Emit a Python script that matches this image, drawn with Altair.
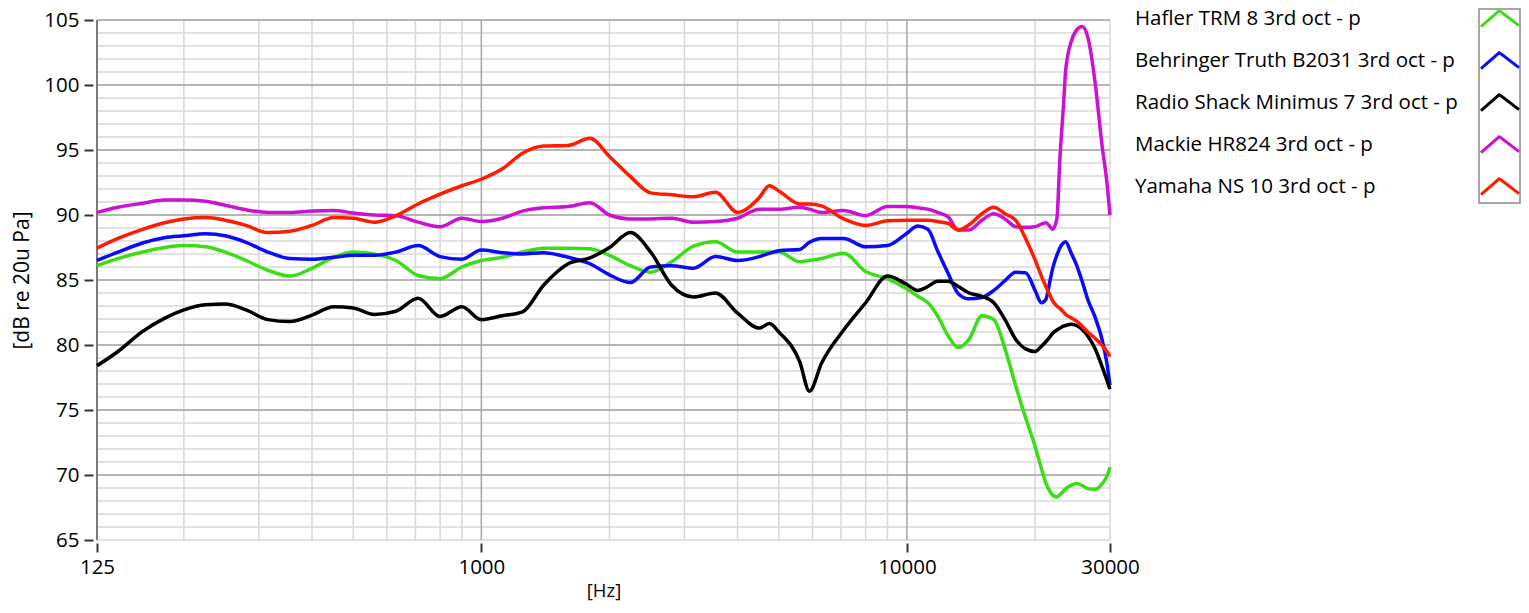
import altair as alt
import pandas as pd

FONT = "Open Sans"

# ---- data ----
freq_hz = [125, 140, 160, 180, 200, 225, 250, 280, 315, 355,
           400, 450, 500, 560, 630, 710, 800, 900, 1000, 1120,
           1250, 1400, 1600, 1800, 2000, 2240, 2500, 2800, 3150, 3550,
           4000, 4500, 4750, 5000, 5600, 5900, 6300, 7100, 8000, 9000,
           10000, 10600, 11200, 11800, 12500, 13200, 14000, 15000, 16000, 17000,
           18000, 19000, 20000, 20700, 21200, 21700, 22000, 22500, 22900, 23300,
           23600, 24300, 25000, 25800, 26600, 27700, 28700, 29500, 30000]

hafler = [86.1, 86.65, 87.15, 87.5, 87.65, 87.55, 87.15, 86.5, 85.75, 85.3,
          85.9, 86.75, 87.15, 87.0, 86.5, 85.35, 85.1, 86.0, 86.5, 86.75,
          87.15, 87.45, 87.45, 87.4, 86.9, 86.1, 85.6, 86.4, 87.6, 87.95,
          87.15, 87.15, 87.15, 87.15, 86.4, 86.5, 86.65, 87.05, 85.65, 85.1,
          84.3, 83.75, 83.25, 82.25, 80.7, 79.8, 80.45, 82.25, 81.95, 79.7,
          76.9, 74.4, 72.2, 70.5, 69.4, 68.7, 68.45, 68.3, 68.5, 68.75,
          68.95, 69.2, 69.35, 69.2, 68.95, 68.9, 69.3, 69.9, 70.6]

behringer = [86.5, 87.15, 87.85, 88.25, 88.4, 88.55, 88.4, 87.9, 87.15, 86.65,
             86.6, 86.75, 86.9, 86.9, 87.15, 87.65, 86.8, 86.6, 87.3, 87.1,
             87.0, 87.1, 86.75, 86.25, 85.4, 84.8, 86.0, 86.1, 85.9, 86.8,
             86.5, 86.8, 87.05, 87.25, 87.35, 87.9, 88.2, 88.2, 87.55, 87.65,
             88.6, 89.15, 88.9, 87.25, 85.5, 83.95, 83.55, 83.65, 84.2, 84.95,
             85.6, 85.55, 84.2, 83.25, 83.5, 85.0, 85.9, 86.9, 87.5, 87.85,
             87.95, 87.1, 86.2, 84.9, 83.5, 82.1, 80.5, 78.6, 76.9]

radioshack = [78.4, 79.5, 81.05, 82.05, 82.7, 83.1, 83.15, 82.7, 81.95, 81.8,
              82.3, 82.95, 82.85, 82.35, 82.6, 83.6, 82.2, 82.95, 81.95, 82.25,
              82.55, 84.6, 86.25, 86.7, 87.5, 88.65, 87.15, 84.6, 83.7, 84.0,
              82.45, 81.3, 81.65, 81.0, 78.7, 76.45, 78.6, 81.15, 83.25, 85.3,
              84.65, 84.2, 84.5, 84.9, 84.9, 84.5, 84.0, 83.75, 83.25, 81.95,
              80.45, 79.7, 79.5, 79.9, 80.25, 80.65, 80.9, 81.15, 81.3, 81.45,
              81.5, 81.6, 81.5, 81.2, 80.7, 79.7, 78.4, 77.3, 76.6]

mackie = [90.2, 90.6, 90.9, 91.15, 91.15, 91.05, 90.75, 90.4, 90.2, 90.2,
          90.3, 90.35, 90.15, 90.0, 89.95, 89.45, 89.1, 89.75, 89.5, 89.75,
          90.3, 90.55, 90.65, 90.95, 90.0, 89.7, 89.7, 89.75, 89.45, 89.5,
          89.75, 90.45, 90.45, 90.45, 90.6, 90.45, 90.2, 90.35, 89.95, 90.65,
          90.65, 90.55, 90.45, 90.2, 89.85, 88.85, 88.85, 89.6, 90.1, 89.7,
          89.1, 89.05, 89.1, 89.3, 89.4, 89.1, 88.9, 89.7, 94.6, 98.2,
          101.1, 103.3, 104.2, 104.5, 103.7, 100.1, 95.5, 92.5, 90.0]

yamaha = [87.45, 88.2, 88.9, 89.4, 89.7, 89.8, 89.6, 89.2, 88.65, 88.75,
          89.2, 89.8, 89.75, 89.45, 89.95, 90.85, 91.6, 92.25, 92.75, 93.55,
          94.75, 95.3, 95.35, 95.9, 94.5, 92.95, 91.7, 91.55, 91.4, 91.75,
          90.2, 91.35, 92.25, 91.85, 90.85, 90.85, 90.7, 89.7, 89.2, 89.55,
          89.6, 89.6, 89.6, 89.5, 89.35, 88.85, 89.25, 90.1, 90.6, 90.1,
          89.6, 88.2, 86.55, 85.3, 84.5, 83.8, 83.4, 83.0, 82.8, 82.55,
          82.35, 82.1, 81.85, 81.45, 81.0, 80.5, 80.0, 79.5, 79.1]

series_names = ["Hafler TRM 8 3rd oct - p",
                "Behringer Truth B2031 3rd oct - p",
                "Radio Shack Minimus 7 3rd oct - p",
                "Mackie HR824 3rd oct - p",
                "Yamaha NS 10 3rd oct - p"]
series_values = [hafler, behringer, radioshack, mackie, yamaha]
series_colors = ["#3ade16", "#0a0aff", "#000000", "#cc10d4", "#ff1a00"]

x_ticks = [125, 1000, 10000, 30000]
y_ticks = [65, 70, 75, 80, 85, 90, 95, 100, 105]
vgrid_minor = [200, 300, 400, 500, 600, 700, 800, 900,
               2000, 3000, 4000, 5000, 6000, 7000, 8000, 9000, 20000, 30000]
vgrid_major = [1000, 10000]
hgrid_minor = list(range(65, 106))
hgrid_major = [70, 75, 80, 85, 90, 95, 100, 105]

# ---- tables ----
rows = []
for name, vals in zip(series_names, series_values):
    for f, v in zip(freq_hz, vals):
        rows.append({"series": name, "freq": f, "db": v})
df = pd.DataFrame(rows)
legend_df = pd.DataFrame({"series": series_names})

xscale = alt.Scale(type="log", domain=[x_ticks[0], x_ticks[-1]], nice=False)
yscale = alt.Scale(domain=[y_ticks[0], y_ticks[-1]], nice=False, zero=False)
cscale = alt.Scale(domain=series_names, range=series_colors)

xaxis = alt.Axis(values=x_ticks, format="d", title="[Hz]", grid=False,
                 domain=False, offset=3, tickSize=9, tickWidth=2,
                 tickColor="#333333", labelPadding=5, titlePadding=4,
                 titleFontSize=18.5,
                 labelFlush=False, labelOverlap=False)
yaxis = alt.Axis(values=y_ticks, title="[dB re 20u Pa]", grid=False,
                 domain=False, offset=4, tickSize=9, tickWidth=2,
                 tickColor="#333333", labelPadding=5, titlePadding=11,
                 titleFontSize=21)

W, H = 1013, 520
PAD_L, PAD_T = 89, 12
PAD_R = 1513 - PAD_L - W
PAD_B = 597 - PAD_T - H

vminor = alt.Chart(pd.DataFrame({"freq": vgrid_minor})).mark_rule(
    color="#d8d8d8", strokeWidth=1.5).encode(x=alt.X("freq:Q", scale=xscale, axis=xaxis))
hminor = alt.Chart(pd.DataFrame({"db": hgrid_minor})).mark_rule(
    color="#d8d8d8", strokeWidth=1.5).encode(y=alt.Y("db:Q", scale=yscale, axis=yaxis))
vmajor = alt.Chart(pd.DataFrame({"freq": vgrid_major})).mark_rule(
    color="#a6a6a6", strokeWidth=1.5).encode(x=alt.X("freq:Q", scale=xscale, axis=xaxis))
hmajor = alt.Chart(pd.DataFrame({"db": hgrid_major})).mark_rule(
    color="#a6a6a6", strokeWidth=1.5).encode(y=alt.Y("db:Q", scale=yscale, axis=yaxis))
left_edge = alt.Chart(pd.DataFrame({"freq": x_ticks[:1]})).mark_rule(
    color="#7a7a7a", strokeWidth=2).encode(x=alt.X("freq:Q", scale=xscale, axis=xaxis))

lines = alt.Chart(df).mark_line(strokeWidth=3.5, interpolate="monotone").encode(
    x=alt.X("freq:Q", scale=xscale, axis=xaxis),
    y=alt.Y("db:Q", scale=yscale, axis=yaxis),
    color=alt.Color("series:N", scale=cscale, legend=None),
    detail="series:N",
)

# ---- legend (drawn beside the plot) ----
LEG_TEXT_X = W + 25
LEG_SYM_X = W + 390
row_scale = alt.Scale(type="point", domain=series_names, range=[-1, 167], padding=0)

leg_text = alt.Chart(legend_df).mark_text(
    align="left", baseline="middle", font=FONT, fontSize=20.5, color="#000000").encode(
    x=alt.value(LEG_TEXT_X),
    y=alt.value(0),
    yOffset=alt.YOffset("series:N", scale=row_scale),
    text="series:N",
)

leg_frame = alt.Chart(legend_df.head(1)).mark_rect(
    fill=None, stroke="#8a8a8a", strokeWidth=1.5).encode(
    x=alt.value(LEG_SYM_X - 21), x2=alt.value(LEG_SYM_X + 20),
    y=alt.value(-11), y2=alt.value(183))

leg_sym = alt.Chart(legend_df).mark_point(
    shape="M -1 0.4 L -0.05 -0.43 L 0.05 -0.38 L 1 0.35",
    filled=False, size=1444, strokeWidth=3, opacity=1).encode(
    x=alt.value(LEG_SYM_X),
    y=alt.value(0),
    yOffset=alt.YOffset("series:N", scale=row_scale),
    color=alt.Color("series:N", scale=cscale, legend=None),
)

chart = alt.layer(vminor, hminor, vmajor, hmajor, left_edge, lines,
                  leg_text, leg_frame, leg_sym).properties(
    width=W, height=H,
    autosize=alt.AutoSizeParams(type="none"),
    padding={"left": PAD_L, "top": PAD_T, "right": PAD_R, "bottom": PAD_B}
).configure_view(stroke=None).configure_axis(
    labelFont=FONT, titleFont=FONT, labelFontSize=20.5,
    labelColor="#000000", titleColor="#000000", titleFontWeight="normal")

chart.save("out.html", embed_options={"renderer": "svg", "actions": False})
